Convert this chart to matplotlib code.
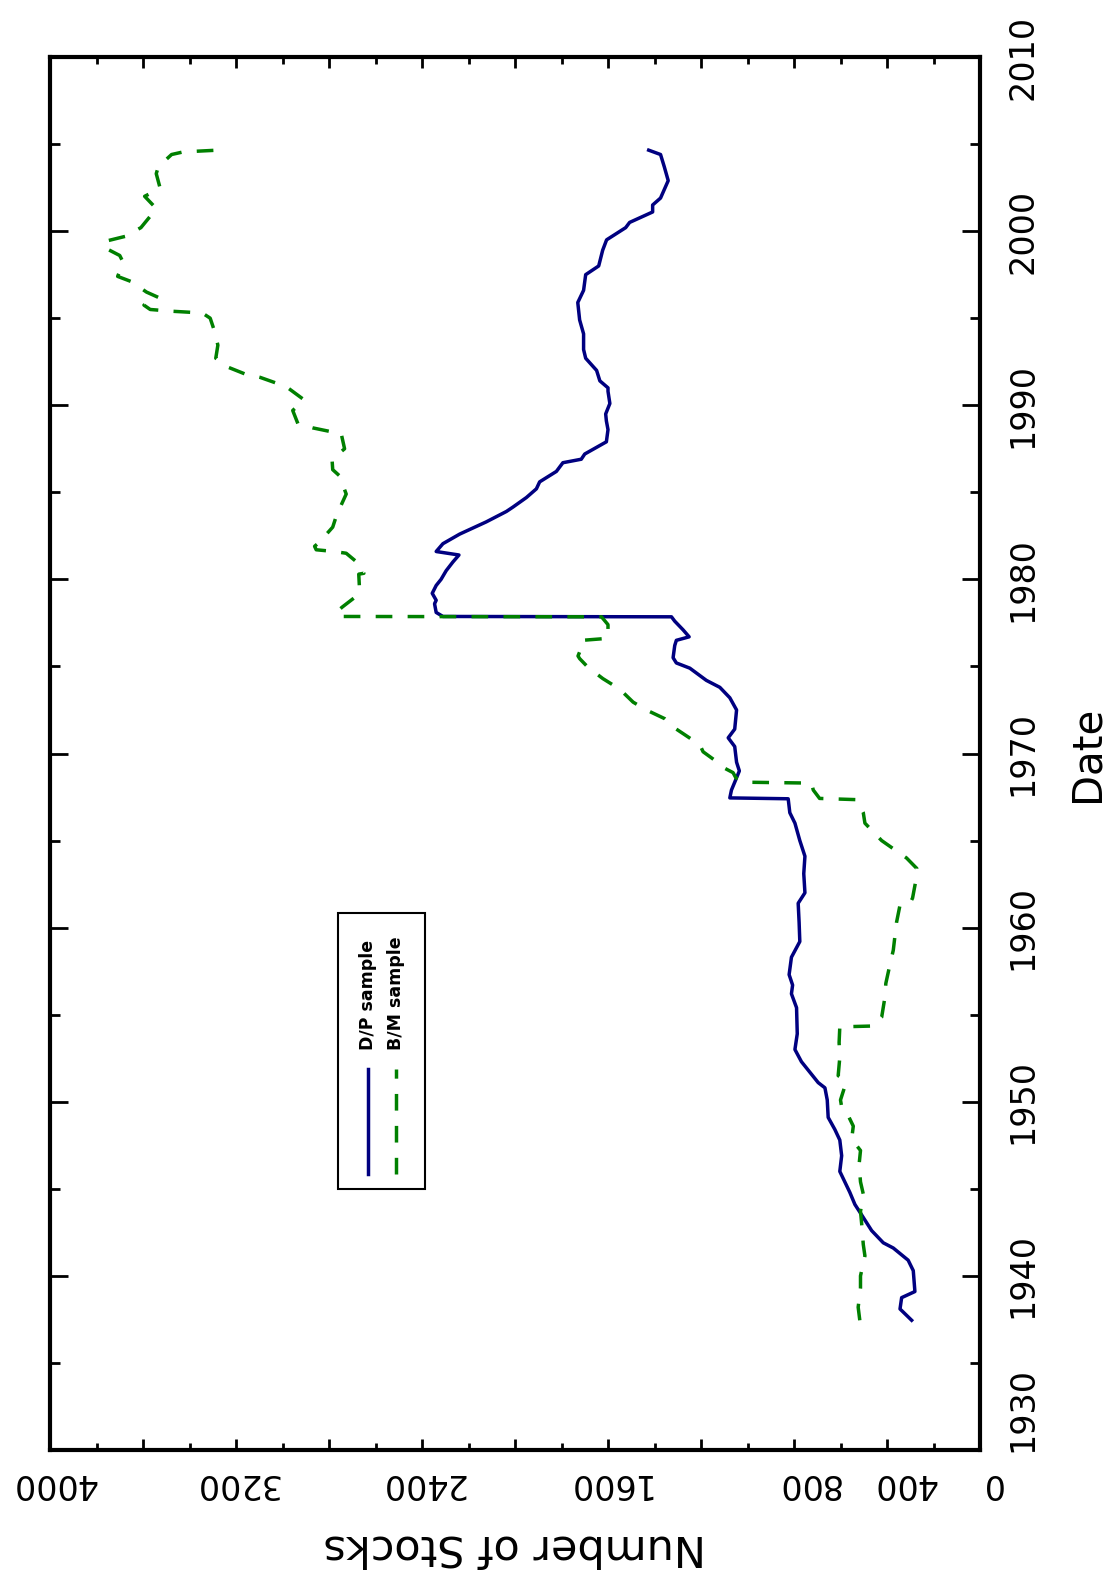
import matplotlib
matplotlib.use('Agg')
import matplotlib.pyplot as plt
from matplotlib.patches import Rectangle
from matplotlib.transforms import ScaledTranslation

# D/P sample (date, number of stocks)
dp_date = [1937.45, 1938.1, 1938.75, 1939.1, 1940.3, 1940.9, 1941.6, 1941.9, 1942.6, 1943.5,
           1944.1, 1944.8, 1946.0, 1946.9, 1947.8, 1948.4, 1949.1, 1950.1, 1950.8, 1951.1,
           1951.7, 1952.3, 1953.0, 1953.9, 1955.4, 1956.2, 1956.7, 1957.3, 1958.3, 1959.2,
           1960.3, 1961.4, 1962.0, 1963.1, 1964.1, 1965.0, 1966.0, 1966.6, 1967.4, 1967.45,
           1967.9, 1968.35, 1969.0, 1969.5, 1970.4, 1970.9, 1971.4, 1972.5, 1973.2, 1973.8,
           1974.2, 1974.9, 1975.2, 1975.5, 1976.2, 1976.5, 1976.7, 1977.1, 1977.6, 1977.85,
           1977.87, 1978.1, 1978.6, 1978.8, 1979.2, 1979.65, 1980.0, 1980.5, 1981.0, 1981.4,
           1981.6, 1982.05, 1982.6, 1983.3, 1983.9, 1984.15, 1984.7, 1985.2, 1985.6, 1986.2,
           1986.7, 1986.9, 1987.2, 1987.9, 1988.6, 1989.1, 1989.5, 1990.1, 1990.8, 1991.0,
           1991.4, 1992.0, 1992.7, 1993.2, 1994.1, 1994.9, 1995.9, 1996.6, 1997.5, 1998.0,
           1998.9, 1999.5, 2000.2, 2000.5, 2001.1, 2001.5, 2001.9, 2002.9, 2003.7, 2004.4,
           2004.65]
dp_stocks = [294, 344, 337, 280, 287, 309, 373, 416, 466, 509,
             538, 560, 603, 595, 603, 624, 653, 657, 667, 696,
             732, 768, 796, 786, 789, 811, 806, 821, 811, 775,
             778, 782, 753, 758, 753, 775, 796, 818, 825, 1076,
             1069, 1055, 1035, 1047, 1055, 1083, 1055, 1047, 1076, 1119,
             1177, 1248, 1306, 1320, 1313, 1306, 1251, 1277, 1313, 1327,
             2310, 2339, 2346, 2339, 2356, 2339, 2318, 2296, 2267, 2241,
             2339, 2310, 2238, 2124, 2037, 2009, 1951, 1908, 1894, 1822,
             1794, 1715, 1700, 1607, 1600, 1607, 1610, 1592, 1600, 1600,
             1635, 1649, 1696, 1705, 1705, 1722, 1730, 1705, 1696, 1640,
             1623, 1606, 1524, 1507, 1408, 1408, 1374, 1341, 1358, 1374,
             1425]

# B/M sample (date, number of stocks)
bm_date = [1937.45, 1938.2, 1939.3, 1940.0, 1941.15, 1941.8, 1943.0, 1943.7, 1944.7, 1945.4,
           1946.4, 1947.2, 1947.85, 1948.6, 1949.4, 1949.7, 1950.1, 1950.9, 1951.3, 1951.5,
           1952.55, 1953.4, 1954.3, 1954.35, 1954.85, 1956.0, 1956.8, 1957.9, 1958.7, 1960.3,
           1961.3, 1961.4, 1961.7, 1962.7, 1963.4, 1964.0, 1964.4, 1965.0, 1965.3, 1966.0,
           1966.6, 1967.35, 1967.42, 1967.6, 1967.9, 1968.3, 1968.35, 1968.6, 1968.9, 1969.2,
           1969.4, 1970.1, 1970.5, 1971.4, 1972.0, 1972.5, 1972.95, 1973.7, 1974.3, 1974.95,
           1975.45, 1975.6, 1976.3, 1976.5, 1976.6, 1976.9, 1977.0, 1977.4, 1977.85, 1977.87,
           1978.1, 1978.4, 1979.1, 1979.5, 1980.3, 1980.35, 1980.9, 1981.5, 1981.6, 1981.7,
           1981.9, 1982.1, 1983.0, 1983.7, 1984.9, 1985.95, 1986.3, 1986.9, 1987.5, 1988.4,
           1988.5, 1988.7, 1988.95, 1989.7, 1990.3, 1990.95, 1991.25, 1991.6, 1991.8, 1992.2,
           1992.7, 1993.45, 1994.2, 1995.0, 1995.3, 1995.4, 1995.5, 1995.75, 1996.2, 1996.5,
           1997.1, 1997.4, 1998.2, 1998.6, 1999.0, 1999.4, 1999.7, 2000.2, 2001.0, 2001.3,
           2002.0, 2002.45, 2003.3, 2003.7, 2004.4, 2004.55, 2004.65]
bm_stocks = [517, 524, 514, 514, 495, 502, 509, 514, 502, 514,
             520, 514, 552, 545, 574, 595, 600, 581, 585, 610,
             603, 606, 603, 459, 423, 409, 405, 387, 373, 359,
             344, 301, 290, 276, 272, 316, 359, 423, 445, 495,
             502, 531, 690, 700, 717, 725, 1000, 1050, 1062, 1105,
             1119, 1191, 1205, 1306, 1356, 1435, 1492, 1550, 1622, 1686,
             1722, 1729, 1708, 1710, 1614, 1593, 1600, 1600, 1628, 2755,
             2769, 2744, 2676, 2669, 2672, 2650, 2672, 2726, 2777, 2855,
             2862, 2844, 2784, 2767, 2726, 2755, 2784, 2787, 2733, 2748,
             2798, 2870, 2934, 2956, 2906, 2972, 3022, 3096, 3162, 3237,
             3287, 3278, 3291, 3311, 3345, 3477, 3569, 3596, 3535, 3585,
             3650, 3709, 3685, 3700, 3758, 3767, 3676, 3609, 3560, 3543,
             3593, 3526, 3543, 3534, 3477, 3427, 3278]

stock_ticks = [0, 400, 800, 1200, 1600, 2000, 2400, 2800, 3200, 3600, 4000]
stock_labels = ['0', '400', '800', '', '1600', '', '2400', '', '3200', '', '4000']
date_ticks = [1930, 1940, 1950, 1960, 1970, 1980, 1990, 2000, 2010]
date_labels = ['1930', '1940', '1950', '1960', '1970', '1980', '1990', '2000', '2010']

plt.rcParams['font.family'] = 'DejaVu Sans'
plt.rcParams['lines.scale_dashes'] = False

fig = plt.figure(figsize=(11.11, 15.74), dpi=100)
ax = fig.add_axes([50/1111, 1 - 1450/1574, 930/1111, 1393/1574])

navy = '#000080'
green = '#008000'

ax.plot(dp_stocks, dp_date, color=navy, lw=2.5)
ax.plot(bm_stocks, bm_date, color=green, lw=2.5, linestyle=(0, (12, 11)))

ax.set_xlim(4000, 0)
ax.set_ylim(1930, 2010)

ax.set_xticks(stock_ticks)
ax.set_xticklabels(stock_labels)
ax.set_xticks(range(200, 4000, 400), minor=True)
ax.set_yticks(date_ticks)
ax.set_yticklabels(date_labels)
ax.set_yticks(range(1935, 2010, 10), minor=True)

for s in ax.spines.values():
    s.set_linewidth(3)

ax.tick_params(axis='x', which='both', direction='in', top=True, bottom=True,
               width=2, labelsize=24, labelrotation=180, pad=12)
ax.tick_params(axis='x', which='major', length=8)
ax.tick_params(axis='x', which='minor', length=5)
ax.tick_params(axis='y', which='both', direction='in', left=True, right=True,
               labelleft=False, labelright=True, width=2, labelsize=24,
               labelrotation=90, pad=19)
ax.tick_params(axis='y', which='major', length=13)
ax.tick_params(axis='y', which='minor', length=7)

for lbl in ax.get_yticklabels():
    lbl.set_va('center')
    if lbl.get_text() == '1930':
        # pushed up off the corner, as in the original
        lbl.set_transform(lbl.get_transform() +
                          ScaledTranslation(0, 0.40, fig.dpi_scale_trans))

# the small numbers near zero sit a bit to the right in the original
shift = {'0': 0.11, '400': 0.17, '800': 0.14, '4000': 0.04}
for lbl in ax.get_xticklabels():
    t = lbl.get_text()
    if t in shift:
        lbl.set_transform(lbl.get_transform() +
                          ScaledTranslation(shift[t], 0, fig.dpi_scale_trans))

ax.set_xlabel('Number of Stocks', fontsize=31, rotation=180,
              rotation_mode='default', va='top', labelpad=19)
ax.yaxis.set_label_position('right')
ax.set_ylabel('Date', fontsize=29, rotation=90, labelpad=20)

# legend box, drawn by hand because it is turned on its side
ax.add_patch(Rectangle((0.3097, 0.1874), 0.0935, 0.1981, transform=ax.transAxes,
                       facecolor='white', edgecolor='black', lw=1.5, zorder=5))
ax.plot([0.342, 0.342], [0.198, 0.2735], transform=ax.transAxes,
        color=navy, lw=2.5, zorder=6)
ax.plot([0.3725, 0.3725], [0.198, 0.2735], transform=ax.transAxes,
        color=green, lw=2.5, linestyle=(0, (12, 11)), zorder=6)
ax.text(0.342, 0.287, 'D/P sample', transform=ax.transAxes, rotation=90,
        ha='center', va='bottom', fontsize=12.5, fontweight='bold', zorder=6)
ax.text(0.3725, 0.287, 'B/M sample', transform=ax.transAxes, rotation=90,
        ha='center', va='bottom', fontsize=12.5, fontweight='bold', zorder=6)

fig.savefig('out.png', dpi=100)
